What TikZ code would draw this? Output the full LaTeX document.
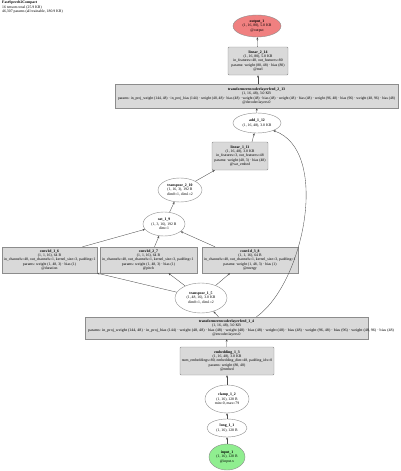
\documentclass[tikz,border=0pt]{standalone}
\usepackage{fontspec}
\setmainfont{Liberation Serif}
\usetikzlibrary{shapes.geometric,arrows.meta}
\definecolor{boxfill}{HTML}{D9D9D9}
\definecolor{boxline}{HTML}{8C8C8C}
\definecolor{outfill}{HTML}{F08080}
\definecolor{infill}{HTML}{90EE90}
\begin{document}
\begin{tikzpicture}[x=1pt,y=-1pt,
 every node/.style={font=\fontsize{3.8}{4.4}\selectfont, inner sep=0pt, align=center},
 box/.style={draw=boxline, fill=boxfill, line width=0.4pt, rounded corners=1pt},
 oval/.style={ellipse, draw=boxline, fill=white, line width=0.4pt},
 txt/.style={align=center},
 wide/.style={anchor=west, align=left},
 edge/.style={draw=black!70, line width=0.35pt, -{Stealth[length=2.4pt,width=2pt]}}]
\useasboundingbox (0,0) rectangle (400,471);
\fill[white] (0,0) rectangle (400,471);

% title
\node[anchor=north west, align=left] (title) at (2,1)
 {\textbf{FastSpeech2Compact}\\16 tensors total (25.9 KB)\\46,307 params (all trainable, 180.9 KB)};

% output
\node[oval, fill=outfill, minimum width=48, minimum height=22] (out) at (257,26) {};
\node[txt] (out-t) at (out.center) {\textbf{output\_1}\\(1, 16, 80), 5.0 KB\\@output};

% linear_2_14
\node[box, minimum width=60, minimum height=28] (lin2) at (258,61) {};
\node[txt] (lin2-t) at (lin2.center) {\textbf{linear\_2\_14}\\(1, 16, 80), 5.0 KB\\in\_features=48, out\_features=80\\params: weight (80, 48) · bias (80)\\@mel};

% transformer layer 2
\node[box, rounded corners=0pt, minimum width=283, minimum height=24] (tel2) at (256.5,96) {};
\node[txt] (tel2-t) at (tel2.center) {\textbf{transformerencoderlayerfeed\_2\_13}\\(1, 16, 48), 3.0 KB\\\mbox{}\\@decoder.layers.0};
\node[wide] (tel2-p) at ([xshift=3pt,yshift=-2.2pt]tel2.west) {\resizebox{277pt}{\height}{params: in\_proj\_weight (144, 48) · in\_proj\_bias (144) · weight (48, 48) · bias (48) · weight (48) · bias (48) · weight (48) · bias (48) · weight (96, 48) · bias (96) · weight (48, 96) · bias (48)}};

% add
\node[oval, minimum width=48, minimum height=20] (add) at (257,123) {};
\node[txt] (add-t) at (add.center) {\textbf{add\_1\_12}\\(1, 16, 48), 3.0 KB};

% linear_1_11
\node[box, minimum width=56, minimum height=28] (lin1) at (240,156) {};
\node[txt] (lin1-t) at (lin1.center) {\textbf{linear\_1\_11}\\(1, 16, 48), 3.0 KB\\in\_features=3, out\_features=48\\params: weight (48, 3) · bias (48)\\@var\_embed};

% transpose_2_10
\node[oval, minimum width=44, minimum height=24] (tr2) at (180,190) {};
\node[txt] (tr2-t) at (tr2.center) {\textbf{transpose\_2\_10}\\(1, 16, 3), 192 B\\dim0=1, dim1=2};

% cat_1_9
\node[oval, minimum width=42, minimum height=24] (cat) at (164,224) {};
\node[txt] (cat-t) at (cat.center) {\textbf{cat\_1\_9}\\(1, 3, 16), 192 B\\dim=1};

% conv1d boxes
\node[box, rounded corners=0pt, minimum width=95, minimum height=26] (conv1) at (49.5,260) {};
\node[txt] (conv1-t) at (conv1.center) {\textbf{conv1d\_1\_6}\\(1, 1, 16), 64 B\\\mbox{}\\params: weight (1, 48, 3) · bias (1)\\@duration};
\node[wide] (conv1-p) at ([xshift=2pt]conv1.west) {in\_channels=48, out\_channels=1, kernel\_size=3, padding=1};

\node[box, rounded corners=0pt, minimum width=97, minimum height=26] (conv2) at (148.5,260) {};
\node[txt] (conv2-t) at (conv2.center) {\textbf{conv1d\_2\_7}\\(1, 1, 16), 64 B\\\mbox{}\\params: weight (1, 48, 3) · bias (1)\\@pitch};
\node[wide] (conv2-p) at ([xshift=2pt]conv2.west) {in\_channels=48, out\_channels=1, kernel\_size=3, padding=1};

\node[box, rounded corners=0pt, minimum width=96, minimum height=26] (conv3) at (250,260) {};
\node[txt] (conv3-t) at (conv3.center) {\textbf{conv1d\_3\_8}\\(1, 1, 16), 64 B\\\mbox{}\\params: weight (1, 48, 3) · bias (1)\\@energy};
\node[wide] (conv3-p) at ([xshift=2pt]conv3.west) {in\_channels=48, out\_channels=1, kernel\_size=3, padding=1};

% transpose_1_5
\node[oval, minimum width=52, minimum height=30] (tr1) at (201,298) {};
\node[txt] (tr1-t) at (tr1.center) {\textbf{transpose\_1\_5}\\(1, 48, 16), 3.0 KB\\dim0=1, dim1=2};

% transformer layer 1
\node[box, rounded corners=0pt, minimum width=283, minimum height=22] (tel1) at (226.5,328) {};
\node[txt] (tel1-t) at (tel1.center) {\textbf{transformerencoderlayerfeed\_1\_4}\\(1, 16, 48), 3.0 KB\\\mbox{}\\@encoder.layers.0};
\node[wide] (tel1-p) at ([xshift=3pt,yshift=-2.2pt]tel1.west) {\resizebox{306pt}{\height}{params: in\_proj\_weight (144, 48) · in\_proj\_bias (144) · weight (48, 48) · bias (48) · weight (48) · bias (48) · weight (48) · bias (48) · weight (96, 48) · bias (96) · weight (48, 96) · bias (48)}};

% embedding
\node[box, minimum width=94, minimum height=28] (emb) at (227,361) {};
\node[txt] (emb-t) at (emb.center) {\textbf{embedding\_1\_3}\\(1, 16, 48), 3.0 KB\\num\_embeddings=80, embedding\_dim=48, padding\_idx=0\\params: weight (80, 48)\\@embed};

% clamp, long, input
\node[oval, minimum width=44, minimum height=28] (clamp) at (227,399) {};
\node[txt] (clamp-t) at (clamp.center) {\textbf{clamp\_1\_2}\\(1, 16), 128 B\\min=0, max=79};
\node[oval, minimum width=40, minimum height=18] (long) at (227,428) {};
\node[txt] (long-t) at (long.center) {\textbf{long\_1\_1}\\(1, 16), 128 B};
\node[oval, fill=infill, minimum width=36, minimum height=26] (inp) at (227,457) {};
\node[txt] (inp-t) at (inp.center) {\textbf{input\_1}\\(1, 16), 128 B\\@input.x};

% edges
\draw[edge] (inp) -- (long);
\draw[edge] (long) -- (clamp);
\draw[edge] (clamp) -- (emb);
\draw[edge] (emb) -- (tel1);
\draw[edge] ([xshift=-8pt]tel1.north) -- (tr1);
\draw[edge] ([xshift=30pt]tel1.north) .. controls (305,282) and (330,150) .. (add.-25);
\draw[edge] (tr1) -- (conv1.south east);
\draw[edge] (tr1) -- ([xshift=20pt]conv2.south);
\draw[edge] (tr1) -- ([xshift=-20pt]conv3.south);
\draw[edge] ([xshift=33pt]conv1.north) -- (cat);
\draw[edge] ([xshift=6pt]conv2.north) -- (cat);
\draw[edge] ([xshift=-35pt]conv3.north) -- (cat);
\draw[edge] (cat) -- (tr2);
\draw[edge] (tr2) -- ([xshift=3pt]lin1.south west);
\draw[edge] ([xshift=12pt]lin1.north) -- (add);
\draw[edge] (add) -- (tel2);
\draw[edge] (tel2.north -| lin2.south) -- (lin2);
\draw[edge] (lin2) -- (out);
\end{tikzpicture}
\end{document}
